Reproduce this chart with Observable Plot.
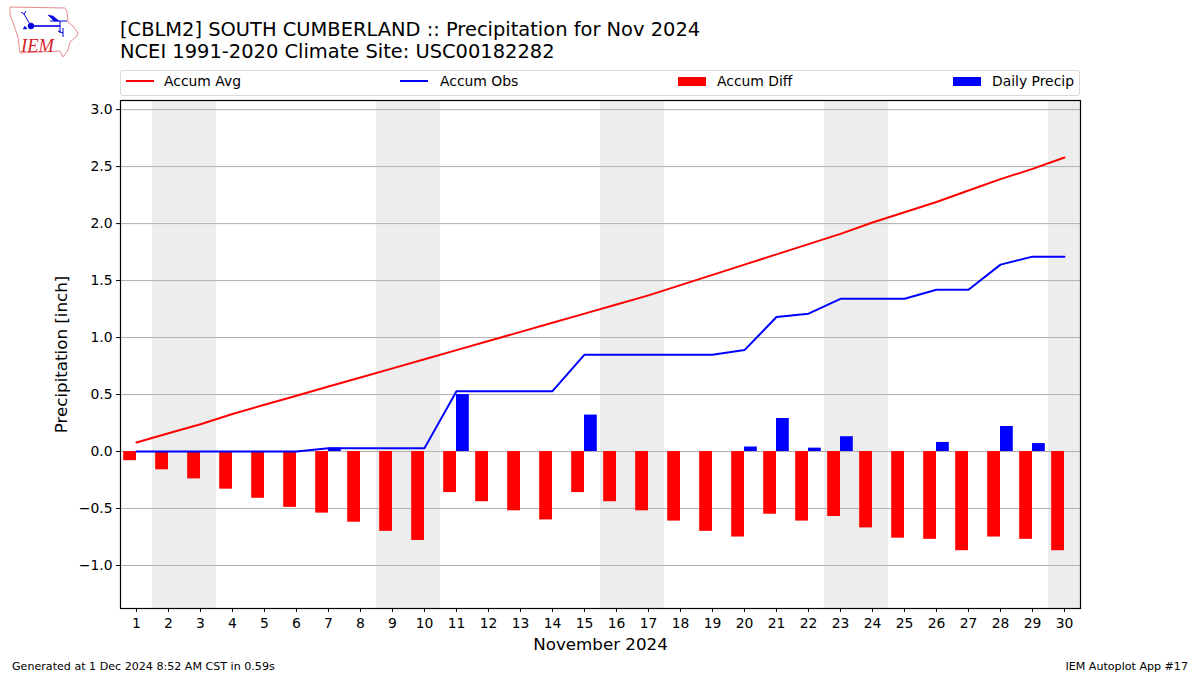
<!DOCTYPE html>
<html>
<head>
<meta charset="utf-8">
<script src="https://cdn.jsdelivr.net/npm/d3@7"></script>
<script src="https://cdn.jsdelivr.net/npm/@observablehq/plot@0.6"></script>
<style>
html,body{margin:0;padding:0;background:#fff;}
body{width:1200px;height:675px;position:relative;overflow:hidden;font-family:"DejaVu Sans",sans-serif;color:#000;}
#chart{position:absolute;left:0;top:0;}
#title{position:absolute;left:120px;top:19px;font-size:19.44px;line-height:22px;white-space:nowrap;}
#legend{position:absolute;left:120px;top:70px;width:958px;height:24px;border:1px solid #d9d9d9;border-radius:3px;font-size:13.9px;background:#fff;}
.li{position:absolute;top:0;height:24px;line-height:23px;white-space:nowrap;}
.sw{position:absolute;}
#gen{position:absolute;left:12px;top:660px;font-size:11.1px;}
#app{position:absolute;right:12px;top:660px;font-size:11.1px;}
#logo{position:absolute;left:8px;top:5px;}
</style>
</head>
<body>
<div id="chart"></div>
<svg id="logo" width="72" height="54" viewBox="8 5 72 54">
  <path d="M10 7 L65 8 L67 12 L68 22 L73 26 L78 33 L76 37 L70 42 L68 50 L63 57 L60 51 L20 53 L18 37 L10 14 Z" fill="#fff" stroke="#e58a8f" stroke-width="1"/>
  <g stroke="#0000dd" fill="#0000dd">
    <path d="M31 26 L60 26" stroke-width="1.6"/>
    <path d="M31 26 L24 14 M24 14 L21 12 M24 14 L26 11" stroke-width="1" fill="none"/>
    <circle cx="31" cy="26" r="2.8"/>
    <path d="M48 15 L53 16 L59 21 L54 21 Z" stroke-width="0.5"/>
    <path d="M50 21 L67 21 M60 21 L60 33 M63 28 L63 37 M58 31 L63 33" stroke-width="1" fill="none"/>
    <path d="M23 29 L25 26 L27 29 Z" stroke-width="0.4"/>
  </g>
  <text x="21" y="52" font-family="Liberation Serif" font-style="italic" font-size="18.5" fill="#d8232a">IEM</text>
</svg>
<div id="title">[CBLM2] SOUTH CUMBERLAND :: Precipitation for Nov 2024<br>NCEI 1991-2020 Climate Site: USC00182282</div>
<div id="legend"></div>
<div id="gen">Generated at 1 Dec 2024 8:52 AM CST in 0.59s</div>
<div id="app">IEM Autoplot App #17</div>
<script>
const days = d3.range(1, 31);
const accumAvg = [0.08,0.16,0.24,0.33,0.41,0.49,0.57,0.65,0.73,0.81,0.89,0.97,1.05,1.13,1.21,1.29,1.37,1.46,1.55,1.64,1.73,1.82,1.91,2.01,2.10,2.19,2.29,2.39,2.48,2.58];
const accumObs = [0,0,0,0,0,0,0.03,0.03,0.03,0.03,0.53,0.53,0.53,0.53,0.85,0.85,0.85,0.85,0.85,0.89,1.18,1.21,1.34,1.34,1.34,1.42,1.42,1.64,1.71,1.71];
const accumDiff = [-0.08,-0.16,-0.24,-0.33,-0.41,-0.49,-0.54,-0.62,-0.70,-0.78,-0.36,-0.44,-0.52,-0.60,-0.36,-0.44,-0.52,-0.61,-0.70,-0.75,-0.55,-0.61,-0.57,-0.67,-0.76,-0.77,-0.87,-0.75,-0.77,-0.87];
const dailyPrecip = [0,0,0,0,0,0,0.03,0,0,0,0.50,0,0,0,0.32,0,0,0,0,0.04,0.29,0.03,0.13,0,0,0.08,0,0.22,0.07,0];
const weekendStart = [1.5,8.5,15.5,22.5,29.5];
const weekendEnd = [3.5,10.5,17.5,24.5,30.5];
const yTicks = [-1,-0.5,0,0.5,1,1.5,2,2.5,3];
const barWidth = 0.4;
const xTitle = "November 2024";
const yTitle = "Precipitation [inch]";
const rows = days.map((d,i)=>({day:d,avg:accumAvg[i],obs:accumObs[i],diff:accumDiff[i],daily:dailyPrecip[i]}));
const bands = weekendStart.map((s,i)=>({s,e:weekendEnd[i]}));
const wet = rows.filter(r=>r.daily>0);
const fmt = v => v.toFixed(1).replace("-","\u2212");

const plot = Plot.plot({
  width:1200, height:675,
  marginLeft:120, marginRight:120, marginTop:100, marginBottom:67,
  style:{fontFamily:"'DejaVu Sans',sans-serif",fontSize:"13.9px",color:"#000",background:"transparent"},
  x:{domain:[0.5,30.5],label:null},
  y:{domain:[-1.377,3.08],label:null},
  marks:[
    Plot.rect(bands,{x1:"s",x2:"e",y1:-1.377,y2:3.08,fill:"#ededed"}),
    Plot.ruleY(yTicks,{stroke:"#b0b0b0",strokeWidth:1}),
    Plot.rect(rows,{x1:d=>d.day-barWidth,x2:"day",y1:0,y2:"diff",fill:"#ff0000",inset:0}),
    Plot.rect(wet,{x1:"day",x2:d=>d.day+barWidth,y1:0,y2:"daily",fill:"#0000ff",inset:0}),
    Plot.line(rows,{x:"day",y:"avg",stroke:"#ff0000",strokeWidth:2,curve:"linear"}),
    Plot.line(rows,{x:"day",y:"obs",stroke:"#0000ff",strokeWidth:2,curve:"linear"}),
    Plot.frame({stroke:"#000",strokeWidth:1.2}),
    Plot.axisX({ticks:days,tickFormat:d=>String(d),tickSize:4,tickPadding:6,label:xTitle,labelAnchor:"center",labelArrow:"none",labelOffset:41,fontSize:13.9}),
    Plot.axisY({ticks:yTicks,tickFormat:fmt,tickSize:4,tickPadding:4,label:yTitle,labelAnchor:"center",labelArrow:"none",labelOffset:65,fontSize:13.9})
  ]
});
for (const t of plot.querySelectorAll("text")) {
  if (t.textContent === xTitle || t.textContent === yTitle) t.setAttribute("font-size", "16.7");
}
document.getElementById("chart").appendChild(plot);

const legendItems = [
  {name:"Accum Avg",color:"#ff0000",kind:"line",sx:5,tx:43},
  {name:"Accum Obs",color:"#0000ff",kind:"line",sx:279,tx:319},
  {name:"Accum Diff",color:"#ff0000",kind:"bar",sx:557,tx:596},
  {name:"Daily Precip",color:"#0000ff",kind:"bar",sx:832,tx:871}
];
const lg = document.getElementById("legend");
for(const it of legendItems){
  const sw=document.createElement("div");
  sw.className="sw";
  sw.style.left=it.sx+"px";
  sw.style.width="28px";
  sw.style.background=it.color;
  sw.style.top=it.kind==="line"?"9px":"6px";
  sw.style.height=it.kind==="line"?"2px":"9px";
  lg.appendChild(sw);
  const t=document.createElement("div");
  t.className="li";
  t.style.left=it.tx+"px";
  t.style.top="-1px";
  t.textContent=it.name;
  lg.appendChild(t);
}
</script>
</body>
</html>
